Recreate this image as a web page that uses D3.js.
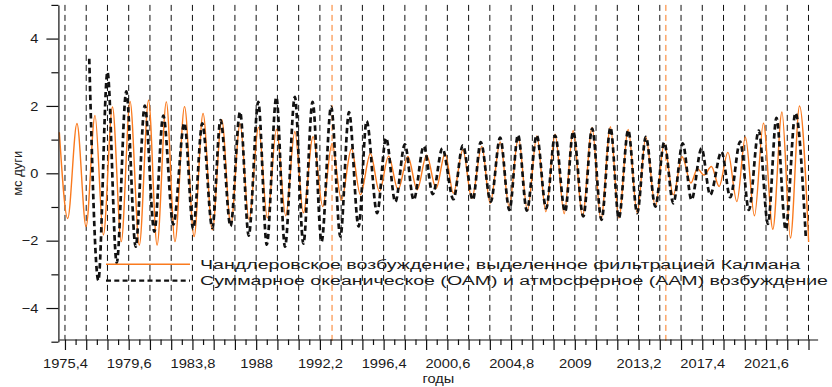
<!DOCTYPE html>
<html>
<head>
<meta charset="utf-8">
<script src="https://cdn.jsdelivr.net/npm/d3@7"></script>
<style>
  body { margin: 0; background: #fff; }
  text { font-family: "Liberation Sans", Arial, sans-serif; fill: #1a1a1a; }
</style>
</head>
<body>
<svg id="chart" width="832" height="387"></svg>
<script>
// Chandler excitation, Kalman filtered: turning points (year, mas)
const chandlerYears = [
  1975.03, 1975.58, 1976.19, 1976.79, 1977.38, 1977.93, 1978.53, 1979.11, 1979.69, 1980.30,
  1980.91, 1981.47, 1982.08, 1982.65, 1983.28, 1983.91, 1984.50, 1985.11, 1985.73, 1986.33,
  1986.94, 1987.53, 1988.16, 1988.74, 1989.34, 1989.95, 1990.55, 1991.11, 1991.75, 1992.39,
  1993.00, 1993.62, 1994.28, 1994.87, 1995.53, 1996.12, 1996.73, 1997.35, 1998.00, 1998.61,
  1999.23, 1999.86, 2000.45, 2001.00, 2001.62, 2002.21, 2002.87, 2003.42, 2004.08, 2004.67,
  2005.28, 2005.88, 2006.50, 2007.09, 2007.70, 2008.30, 2008.89, 2009.50, 2010.14, 2010.72,
  2011.35, 2011.90, 2012.52, 2013.11, 2013.68, 2014.31, 2014.89, 2015.49, 2016.07, 2016.65,
  2017.08, 2017.51, 2018.00, 2018.51, 2019.09, 2019.68, 2020.24, 2020.84, 2021.43, 2022.05,
  2022.65, 2023.21, 2023.81, 2024.41
];
const chandlerValues = [
  1.22, -1.34, 1.48, -1.58, 1.72, -1.83, 1.97, -2.03, 2.13, -2.13,
  2.17, -2.13, 2.12, -2.03, 1.98, -1.88, 1.78, -1.68, 1.59, -1.53,
  1.47, -1.38, 1.37, -1.33, 1.31, -1.26, 1.24, -1.17, 1.09, -0.99,
  0.89, -0.79, 0.73, -0.64, 0.59, -0.54, 0.51, -0.49, 0.50, -0.49,
  0.54, -0.45, 0.59, -0.59, 0.69, -0.74, 0.80, -0.89, 0.93, -0.99,
  1.07, -1.11, 1.11, -1.14, 1.16, -1.20, 1.27, -1.28, 1.36, -1.38,
  1.38, -1.33, 1.30, -1.18, 1.08, -0.99, 0.88, -0.64, 0.49, -0.29,
  0.14, -0.05, 0.20, -0.39, 0.62, -0.84, 1.08, -1.26, 1.49, -1.66,
  1.82, -1.92, 2.00, -2.04
];

// Oceanic + atmospheric (OAM + AAM) excitation: turning points (year, mas)
const oamAamYears = [
  1977.00, 1977.60, 1978.20, 1978.81, 1979.44, 1980.06, 1980.66, 1981.29, 1981.88, 1982.54,
  1983.27, 1983.85, 1984.45, 1985.11, 1985.65, 1986.31, 1986.94, 1987.51, 1988.14, 1988.70,
  1989.33, 1989.90, 1990.55, 1991.11, 1991.72, 1992.31, 1992.94, 1993.55, 1994.12, 1994.75,
  1995.28, 1995.97, 1996.56, 1997.17, 1997.80, 1998.38, 1999.05, 1999.64, 2000.27, 2001.00,
  2001.62, 2002.28, 2002.80, 2003.46, 2004.08, 2004.69, 2005.26, 2005.84, 2006.49, 2007.11,
  2007.70, 2008.36, 2008.89, 2009.56, 2010.14, 2010.76, 2011.35, 2011.90, 2012.52, 2013.11,
  2013.68, 2014.31, 2014.89, 2015.49, 2016.11, 2016.69, 2017.35, 2017.92, 2018.67, 2019.24,
  2019.90, 2020.47, 2021.12, 2021.73, 2022.29, 2022.90, 2023.54, 2024.22
];
const oamAamValues = [
  3.40, -3.18, 3.01, -2.66, 2.43, -2.18, 2.01, -1.73, 1.71, -1.52,
  1.49, -1.65, 1.48, -1.62, 1.58, -1.57, 1.82, -1.85, 2.12, -2.12,
  2.26, -2.18, 2.27, -2.09, 2.12, -2.03, 1.98, -1.88, 1.82, -1.58,
  1.55, -1.18, 1.05, -0.85, 0.86, -0.79, 0.81, -0.62, 0.74, -0.77,
  0.83, -0.79, 0.93, -0.84, 1.06, -1.09, 1.14, -1.11, 1.13, -1.04,
  1.12, -1.14, 1.24, -1.28, 1.33, -1.38, 1.36, -1.33, 1.28, -1.18,
  1.08, -0.99, 0.92, -0.89, 0.89, -0.79, 0.74, -0.64, 0.64, -0.71,
  0.94, -1.09, 1.27, -1.50, 1.65, -1.67, 1.79, -1.88
];

// Highlighted epochs
const markerYears = [1993.0, 2015.0];

// Axis ticks and labels
const xMajorTicks = d3.range(36).map(i => +(1975.4 + 1.4 * i).toFixed(1));
const xMinorTicks = d3.range(35).map(i => +(1976.1 + 1.4 * i).toFixed(1));
const xLabelYears = [1975.4, 1979.6, 1983.8, 1988, 1992.2, 1996.4, 2000.6, 2004.8, 2009, 2013.2, 2017.4, 2021.6];
const xLabelTexts = ["1975,4", "1979,6", "1983,8", "1988", "1992,2", "1996,4", "2000,6", "2004,8", "2009", "2013,2", "2017,4", "2021,6"];
const yMajorTicks = [-4, -2, 0, 2, 4];
const yMinorTicks = [-5, -3, -1, 1, 3, 5];
const legendLabels = [
  "Чандлеровское возбуждение, выделенное фильтрацией Калмана",
  "Суммарное океаническое (ОАМ) и атмосферное (ААМ) возбуждение"
];
const xTitle = "годы";
const yTitle = "мс дуги";

const ORANGE = "#fa7a1e";
const INK = "#111";

const svg = d3.select("#chart");
const x = d3.scaleLinear().domain([1975, 2025]).range([58.9, 817.6]);
const y = d3.scaleLinear().domain([-5, 5]).range([341.7, 4.9]);
const axisY = 339.5;
const axisX = 58.4;

// vertical dashed grid at the major year ticks
svg.append("g")
  .selectAll("line")
  .data(xMajorTicks)
  .join("line")
  .attr("x1", d => x(d)).attr("x2", d => x(d))
  .attr("y1", y(5)).attr("y2", axisY)
  .attr("stroke", INK).attr("stroke-width", 1)
  .attr("stroke-dasharray", "6 4");

// highlighted epochs
svg.append("g")
  .selectAll("line")
  .data(markerYears)
  .join("line")
  .attr("x1", d => x(d)).attr("x2", d => x(d))
  .attr("y1", y(5)).attr("y2", y(-5))
  .attr("stroke", ORANGE).attr("stroke-width", 1)
  .attr("stroke-dasharray", "6 4");

// curves through the turning points
const line = d3.line()
  .x(d => x(d[0]))
  .y(d => y(d[1]))
  .curve(d3.curveMonotoneX);

svg.append("path")
  .datum(d3.zip(chandlerYears, chandlerValues))
  .attr("d", line)
  .attr("fill", "none")
  .attr("stroke", ORANGE)
  .attr("stroke-width", 1.4);

svg.append("path")
  .datum(d3.zip(oamAamYears, oamAamValues))
  .attr("d", line)
  .attr("fill", "none")
  .attr("stroke", INK)
  .attr("stroke-width", 2.7)
  .attr("stroke-dasharray", "5.5 3.5");

// x axis: major ticks with labels every third tick, minor ticks in between
const xLabelMap = new Map(xLabelYears.map((v, i) => [v, xLabelTexts[i]]));
const gx = svg.append("g")
  .attr("transform", `translate(0,${axisY})`)
  .call(d3.axisBottom(x)
    .tickValues(xMajorTicks)
    .tickSize(10.5)
    .tickSizeOuter(0)
    .tickFormat(d => xLabelMap.get(d) || ""));
gx.select(".domain").attr("stroke", INK).attr("stroke-width", 1.2);
gx.selectAll(".tick line").attr("stroke", INK).attr("stroke-width", 1.2);
gx.selectAll(".tick text")
  .attr("y", 29).attr("dy", null)
  .attr("font-size", 13)
  .attr("fill", "#1a1a1a")
  .attr("transform", "scale(1.13,1)");

const gxm = svg.append("g")
  .attr("transform", `translate(0,${axisY})`)
  .call(d3.axisBottom(x).tickValues(xMinorTicks).tickSize(5.5).tickSizeOuter(0).tickFormat(""));
gxm.select(".domain").remove();
gxm.selectAll(".tick line").attr("stroke", INK).attr("stroke-width", 1.2);

// y axis
const gy = svg.append("g")
  .attr("transform", `translate(${axisX},0)`)
  .call(d3.axisLeft(y).tickValues(yMajorTicks).tickSize(12).tickSizeOuter(0).tickFormat(d3.format("d")));
gy.select(".domain").attr("stroke", INK).attr("stroke-width", 1.2);
gy.selectAll(".tick line").attr("stroke", INK).attr("stroke-width", 1.2);
gy.selectAll(".tick text")
  .attr("x", -20 / 1.12)
  .attr("font-size", 13)
  .attr("fill", "#1a1a1a")
  .attr("transform", "scale(1.12,1)");

const gym = svg.append("g")
  .attr("transform", `translate(${axisX},0)`)
  .call(d3.axisLeft(y).tickValues(yMinorTicks).tickSize(7).tickSizeOuter(0).tickFormat(""));
gym.select(".domain").remove();
gym.selectAll(".tick line").attr("stroke", INK).attr("stroke-width", 1.2);

// axis titles
svg.append("text")
  .attr("transform", `translate(${x(2000)},383) scale(1.12,1)`)
  .attr("text-anchor", "middle")
  .attr("font-size", 13)
  .text(xTitle);

svg.append("text")
  .attr("transform", `translate(21.5,${y(0)}) rotate(-90)`)
  .attr("text-anchor", "middle")
  .attr("font-size", 13)
  .text(yTitle);

// legend
const legend = svg.append("g");
const legendRows = [
  { y: 264.3, base: 268.5, stroke: ORANGE, width: 1.4, dash: null, end: 800.5 },
  { y: 280.7, base: 285.2, stroke: INK, width: 2.2, dash: "5 3.3", end: 828 }
];
legendRows.forEach((r, i) => {
  legend.append("line")
    .attr("x1", 106).attr("x2", 190)
    .attr("y1", r.y).attr("y2", r.y)
    .attr("stroke", r.stroke)
    .attr("stroke-width", r.width)
    .attr("stroke-dasharray", r.dash);
  legend.append("text")
    .attr("x", 200).attr("y", r.base)
    .attr("font-size", 12.5)
    .attr("textLength", r.end - 200)
    .attr("lengthAdjust", "spacingAndGlyphs")
    .text(legendLabels[i]);
});
</script>
</body>
</html>
